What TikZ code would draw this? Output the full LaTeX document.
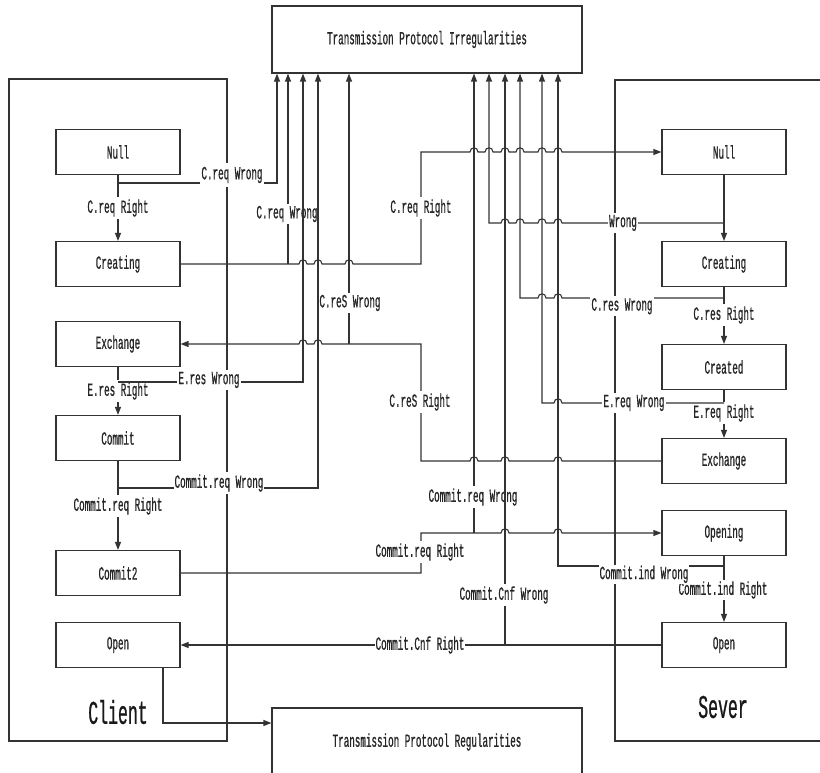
\documentclass[tikz,border=0pt]{standalone}
\usepackage{fontspec}
\usetikzlibrary{arrows.meta}
\newfontfamily\lf[FakeStretch=0.5,FakeBold=0.7]{Liberation Mono}
\tikzset{
  ln/.style={draw=black!80, line width=1.1pt},
  arr/.style={ln, -{Triangle[length=8pt,width=6pt]}},
  rarr/.style={ln, {Triangle[length=8pt,width=6pt]}-},
  statebox/.style={draw=black!80, line width=1.1pt, minimum width=124pt, minimum height=45pt, inner sep=0pt, font={\lf\fontsize{18.5}{19}\selectfont}, text=black!85},
  bigbox/.style={draw=black!80, line width=1.1pt, minimum width=310pt, inner sep=0pt, font={\lf\fontsize{18.5}{19}\selectfont}, text=black!85},
  lbl/.style={fill=white, inner xsep=1pt, inner ysep=2pt, font={\lf\fontsize{18.5}{19}\selectfont}, text=black!85},
  biglbl/.style={inner sep=0pt, font={\lf\fontsize{33}{35}\selectfont}, text=black!90},
}
\def\hp#1#2{-- ({#1-4},#2) .. controls ({#1-4},{#2-5.5}) and ({#1+4},{#2-5.5}) .. ({#1+4},#2)}
\begin{document}
\begin{tikzpicture}[x=1pt,y=-1pt]
\useasboundingbox (0,0) rectangle (820,773);
\fill[white] (0,0) rectangle (820,773);
% containers
\node[ln, minimum width=218pt, minimum height=662pt, inner sep=0pt] (client) at (118,410) {};
\draw[ln] (830,80) -- (615,80) -- (615,741) -- (830,741);
\node[biglbl] (clientlbl) at (118,712) {Client};
\node[biglbl] (severlbl) at (723,707) {Sever};
% big boxes
\node[bigbox, minimum height=67pt] (top) at (427,39.5) {Transmission Protocol Irregularities};
\node[bigbox, minimum height=68pt] (bot) at (427,742) {Transmission Protocol Regularities};
% client states
\node[statebox] (cNull) at (118,152) {Null};
\node[statebox] (cCreating) at (118,264) {Creating};
\node[statebox] (cExch) at (118,344) {Exchange};
\node[statebox] (cCommit) at (118,438) {Commit};
\node[statebox] (cCommit2) at (118,573) {Commit2};
\node[statebox] (cOpen) at (118,645) {Open};
% server states
\node[statebox] (sNull) at (724,152) {Null};
\node[statebox] (sCreating) at (724,264) {Creating};
\node[statebox] (sCreated) at (724,367) {Created};
\node[statebox] (sExch) at (724,461) {Exchange};
\node[statebox] (sOpening) at (724,533) {Opening};
\node[statebox] (sOpen) at (724,645) {Open};
% column coordinates
\coordinate (xa) at (277,0);
\coordinate (xb) at (288,0);
\coordinate (xc) at (303,0);
\coordinate (xd) at (318,0);
\coordinate (xe) at (349,0);
\coordinate (xf) at (474,0);
\coordinate (xg) at (489,0);
\coordinate (xh) at (505,0);
\coordinate (xi) at (520,0);
\coordinate (xj) at (542,0);
\coordinate (xk) at (558,0);
% junctions
\coordinate (jA) at (118,183);
\coordinate (jB) at (288,264);
\coordinate (jC) at (349,344);
\coordinate (jD) at (118,382);
\coordinate (jE) at (118,488);
\coordinate (jF) at (474,533);
\coordinate (jG) at (505,645);
\coordinate (jH) at (724,223);
\coordinate (jI) at (724,298);
\coordinate (jJ) at (724,403);
\coordinate (jK) at (724,566);
% state to state (right)
\draw[arr] (cNull) -- (cCreating);
\node[lbl] (l1) at (118,208) {C.req Right};
\draw[arr] (cExch) -- (cCommit);
\node[lbl] (l2) at (118,391) {E.res Right};
\draw[arr] (cCommit) -- (cCommit2);
\node[lbl] (l3) at (118,506) {Commit.req Right};
\draw[arr] (sNull) -- (sCreating);
\draw[arr] (sCreating) -- (sCreated);
\node[lbl] (l4) at (724,315) {C.res Right};
\draw[arr] (sCreated) -- (sExch);
\node[lbl] (l5) at (724,413) {E.req Right};
\draw[arr] (sOpening) -- (sOpen);
\node[lbl, inner ysep=1pt] (l6) at (723,590) {Commit.ind Right};
% C.req Wrong (client 1)
\draw[arr] (jA) -| (top.south -| xa);
\node[lbl, minimum height=24pt] (l7) at (232,175) {C.req Wrong};
% C.req Right to server Null
\draw[arr] (cCreating.east) \hp{303}{264} \hp{318}{264} \hp{349}{264} -- (421,264) -- (421,152)
  \hp{474}{152} \hp{489}{152} \hp{505}{152} \hp{520}{152} \hp{542}{152} \hp{558}{152} -- (sNull.west);
\node[lbl] (l8) at (421,208) {C.req Right};
% C.req Wrong (client 2)
\draw[arr] (jB) -- (top.south -| xb);
\node[lbl] (l9) at (287,214) {C.req Wrong};
% C.reS Right
\draw[rarr] (cExch.east) \hp{303}{344} \hp{318}{344} -- (421,344) -- (421,461)
  \hp{474}{461} \hp{505}{461} \hp{558}{461} -- (sExch.west);
\node[lbl] (l10) at (420,402) {C.reS Right};
% C.reS Wrong
\draw[arr] (jC) -- (top.south -| xe);
\node[lbl, inner xsep=0pt] (l11) at (350,303) {C.reS Wrong};
% E.res Wrong
\draw[arr] (jD) -| (top.south -| xc);
\node[lbl] (l12) at (209,380) {E.res Wrong};
% Commit.req Wrong (client)
\draw[arr] (jE) -| (top.south -| xd);
\node[lbl] (l13) at (219,483) {Commit.req Wrong};
% Commit.req Right
\draw[arr] (cCommit2.east) -- (421,573) -- (421,533) -- (jF) \hp{505}{533} \hp{558}{533} -- (sOpening.west);
\node[lbl] (l14) at (420,552) {Commit.req Right};
% Commit.req Wrong (server)
\draw[arr] (jF) -- (top.south -| xf);
\node[lbl] (l15) at (473,497) {Commit.req Wrong};
% Commit.Cnf Right
\draw[rarr] (cOpen.east) -- (sOpen.west);
\node[lbl] (l16) at (420,645) {Commit.Cnf Right};
% Commit.Cnf Wrong
\draw[arr] (jG) -- (top.south -| xh);
\node[lbl] (l17) at (504,595) {Commit.Cnf Wrong};
% Wrong (server)
\draw[rarr] (top.south -| xg) -- (489,223) \hp{505}{223} \hp{520}{223} \hp{542}{223} \hp{558}{223} -- (jH);
\node[lbl] (l18) at (623,223) {Wrong};
% C.res Wrong
\draw[rarr] (top.south -| xi) -- (520,298) \hp{542}{298} \hp{558}{298} -- (jI);
\node[lbl, anchor=north] (l19) at (622,296) {C.res Wrong};
% E.req Wrong
\draw[rarr] (top.south -| xj) -- (542,403) \hp{558}{403} -- (jJ);
\node[lbl] (l20) at (634,403) {E.req Wrong};
% Commit.ind Wrong
\draw[rarr] (top.south -| xk) -- (558,566) -- (jK);
\node[lbl, anchor=north, inner ysep=1pt] (l21) at (644,564.5) {Commit.ind Wrong};
% Open to regularities
\draw[arr] ([xshift=45pt]cOpen.south) |- ([yshift=19pt]bot.west);
\end{tikzpicture}
\end{document}
